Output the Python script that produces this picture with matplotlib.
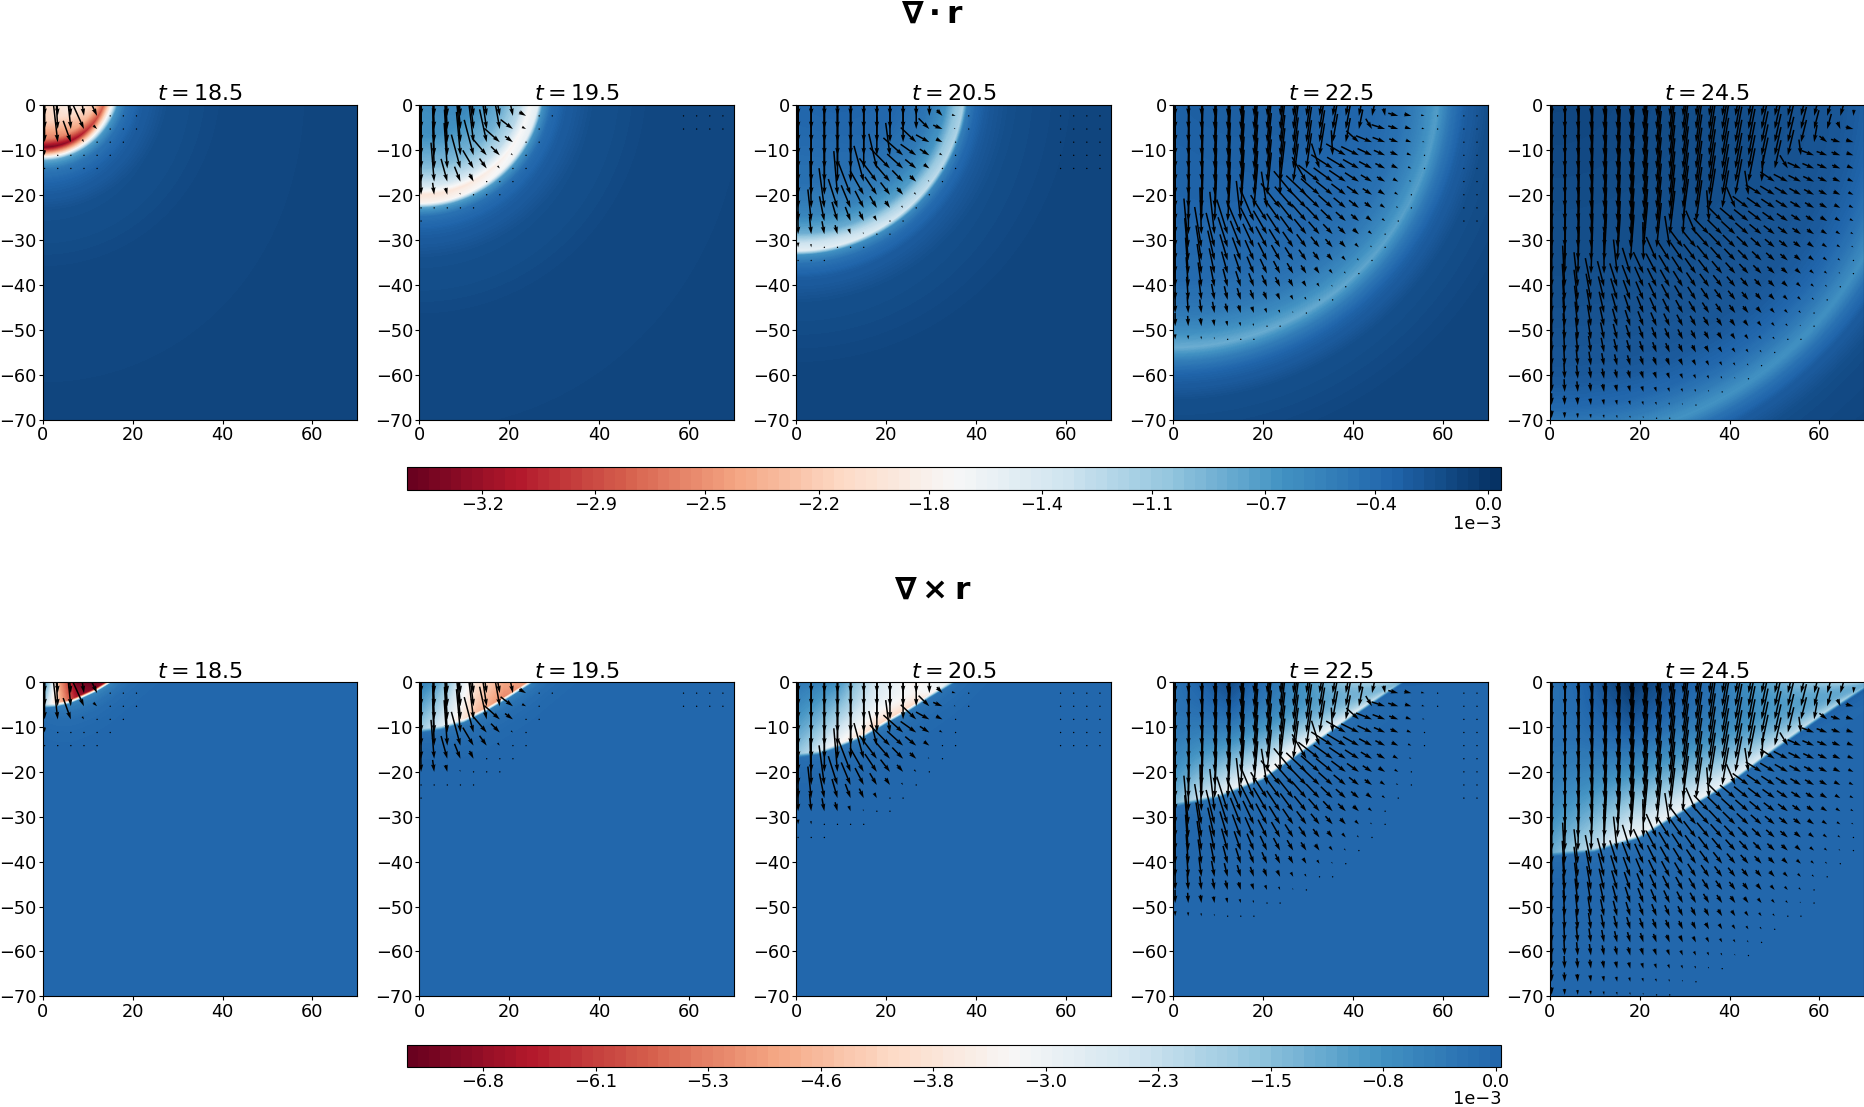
import numpy as np
import matplotlib
matplotlib.use('Agg')
import matplotlib.pyplot as plt
from matplotlib.cm import ScalarMappable
from matplotlib.colors import Normalize

# panel times
times = [18.5, 19.5, 20.5, 22.5, 24.5]

# radius of the divergence front, centred on (0, 5)
div_radius = [16.5, 27.0, 37.5, 59.0, 80.0]
radius_offsets = [-80, -30, -15, -8, -4, -2, 0, 1, 3, 6, 12, 25, 80]
# value behind/ahead of the front, in units of 1e-3
div_profiles = [
    [-1.9, -1.9, -1.95, -2.1, -2.6, -3.4, -1.9, -0.8, -0.45, -0.3, -0.18, -0.12, -0.1],
    [-0.55, -0.55, -0.65, -0.95, -1.4, -1.95, -1.75, -0.75, -0.4, -0.28, -0.18, -0.12, -0.1],
    [-0.32, -0.32, -0.4, -0.55, -0.85, -1.3, -1.55, -0.65, -0.4, -0.26, -0.16, -0.11, -0.1],
    [-0.25, -0.3, -0.35, -0.45, -0.6, -0.72, -0.85, -0.72, -0.5, -0.3, -0.16, -0.1, -0.1],
    [-0.1, -0.18, -0.22, -0.32, -0.47, -0.58, -0.68, -0.6, -0.42, -0.26, -0.14, -0.1, -0.09],
]
div_side_factor = [0.78, 0.85, 0.72, 0.85, 0.9]

# curl front: depth below the surface at given x, read per panel
curl_front_x = [
    [0, 3, 6, 9, 12, 15],
    [0, 5, 10, 15, 20, 25],
    [0, 5, 10, 15, 20, 25, 30, 35],
    [0, 10, 20, 30, 40, 51],
    [0, 10, 20, 30, 40, 50, 60, 72],
]
curl_front_depth = [
    [5.5, 5.2, 4.5, 3.2, 1.8, 0.0],
    [11.0, 10.2, 8.7, 6.2, 3.2, 0.0],
    [16.5, 15.8, 14.0, 12.0, 9.0, 6.2, 3.0, 0.0],
    [27.5, 25.5, 21.5, 14.5, 7.5, 0.0],
    [38.5, 37.5, 34.5, 28.5, 22.5, 15.0, 8.0, 0.0],
]
curl_q = [0, 0.1, 0.25, 0.5, 0.75, 1.0]
curl_at_front = [
    [-2.0, -3.2, -4.6, -6.5, -7.0, -6.5],
    [-1.8, -2.3, -3.1, -4.6, -5.3, -5.0],
    [-1.7, -2.3, -3.4, -4.4, -4.4, -3.2],
    [-1.4, -2.3, -3.1, -3.8, -3.2, -2.6],
    [-1.2, -2.0, -3.2, -3.2, -2.6, -2.3],
]
curl_at_surface = [
    [-0.5, -2.0, -5.0, -7.2, -7.3, -6.8],
    [-0.4, -0.7, -1.6, -3.8, -4.8, -5.0],
    [-0.3, -0.4, -0.7, -2.5, -3.4, -3.0],
    [-0.2, 0.0, 0.4, -0.5, -1.7, -2.5],
    [-0.2, 0.0, 0.7, -0.2, -1.5, -2.4],
]
curl_mid_factor = [1.0, 1.0, 0.8, 0.25, 0.15]
curl_under = [0.0, 0.0, 0.1, 0.35, 0.45]

# arrows
arrow_amp = [28, 24, 24, 17, 12]
arrow_margin = [4, 7, 8, 3, 1]
arrow_lean = [0.25, 0.25, 0.0, -0.25, -0.32]
arrow_mask_margin = [7, 4, 3, 1, 0]
arrow_min_y = [-15, -27, -36, -70, -70]
far_dots_x = [99, 58, 58, 62, 99]
far_dots_y = [0, -8, -16, -26, 0]

# colourbars
div_ticks = [-3.2, -2.84, -2.49, -2.13, -1.78, -1.42, -1.07, -0.71, -0.36, 0.0]
div_tick_labels = ['\u22123.2', '\u22122.9', '\u22122.5', '\u22122.2', '\u22121.8', '\u22121.4', '\u22121.1', '\u22120.7', '\u22120.4', '0.0']
curl_ticks = [-6.8, -6.04, -5.29, -4.53, -3.78, -3.02, -2.27, -1.51, -0.76, 0.0]
curl_tick_labels = ['\u22126.8', '\u22126.1', '\u22125.3', '\u22124.6', '\u22123.8', '\u22123.0', '\u22122.3', '\u22121.5', '\u22120.8', '0.0']
div_range = (-3.44, 0.04)
curl_range = (-7.31, 0.035)
curl_norm_top = 0.85

W, H = 1568.0, 931.0
panel_left = [36, 352.5, 669.5, 986.5, 1303]
panel_w = 264.5


def div_field(i, X, Y):
    r = np.hypot(X, Y - 5)
    val = np.interp(r - div_radius[i], radius_offsets, div_profiles[i])
    # front is stronger straight down than along the surface
    sin2 = ((5 - Y) / np.maximum(r, 1e-6)) ** 2
    k = div_side_factor[i] + (1 - div_side_factor[i]) * sin2
    return -0.1 + (val + 0.1) * k


def curl_field(i, X, Y):
    depth = np.interp(X, curl_front_x[i], curl_front_depth[i], right=0.0)
    xend = curl_front_x[i][-1]
    q = np.clip(X / xend, 0, 1)
    front = np.interp(q, curl_q, curl_at_front[i])
    surf = np.interp(q, curl_q, curl_at_surface[i])
    f = np.clip(-Y / np.maximum(depth, 1e-6), 0, 1)
    mid = 0.5 * (surf + front) * curl_mid_factor[i]
    a, b = (1 - f) ** 2, f ** 2.5
    inside = surf * a + front * b + mid * np.clip(1 - a - b, 0, 1)
    d = -Y - depth
    outside = front * 0.1 * np.exp(-np.maximum(d, 0) / 2.5) + curl_under[i] * q * np.exp(-np.maximum(d, 0) / 1.5)
    outside = outside * np.exp(-np.maximum(X - xend, 0) / 3.0)
    mix = np.clip((d + 0.4) / 0.9, 0, 1)
    mix = np.where(X > xend, 1.0, mix)
    return inside * (1 - mix) + outside * mix


def arrows(i):
    qx = 0.4 + 2.92 * np.arange(24)
    qy = -2.5 - 2.92 * np.arange(24)
    X, Y = np.meshgrid(qx, qy)
    dx, dy = X, Y - 5
    r = np.hypot(dx, dy)
    R = div_radius[i]
    P = arrow_amp[i] * np.clip((R - r) / R, 0, 1) * (1 + 1.2 * np.exp(-X / 6.0))
    # shear part lives above the curl front
    depth = np.interp(X, curl_front_x[i], curl_front_depth[i], right=-5.0)
    xend = curl_front_x[i][-1]
    q = np.clip(X / xend, 0, 1)
    g = np.clip((depth + arrow_margin[i] * (1 - q) + Y + 2) / 3.0, 0, 1)
    S = 10.5 * (1 - q ** 2.5)
    U = (1 - g) * P * dx / r + g * arrow_lean[i] * q * S
    V = (1 - g) * P * (dy / r - 0.1 * dx / r) + g * (-S)
    keep = (r < R + arrow_mask_margin[i]) | ((X > far_dots_x[i]) & (Y > far_dots_y[i]))
    keep = keep & (Y > arrow_min_y[i])
    return X[keep], Y[keep], U[keep], V[keep]


def draw_row(top, bottom, field, levels, norm):
    xx = np.linspace(0, 70, 351)
    yy = np.linspace(-70, 0, 351)
    X, Y = np.meshgrid(xx, yy)
    for i, t in enumerate(times):
        ax = fig.add_axes([panel_left[i] / W, 1 - bottom / H, panel_w / W, (bottom - top) / H])
        ax.contourf(X, Y, field(i, X, Y), levels=levels, cmap='RdBu', norm=norm, extend='both')
        x, y, u, v = arrows(i)
        ax.quiver(x, y, u, v, angles='xy', scale_units='xy', scale=1, pivot='tip',
                  width=0.0048, color='k', zorder=3)
        ax.set_xlim(0, 70)
        ax.set_ylim(-70, 0)
        ax.set_xticks([0, 20, 40, 60])
        ax.set_yticks(np.arange(-70, 1, 10))
        ax.tick_params(labelsize=12.8, length=3, pad=1.5)
        ax.set_title(f'$t = {t}$', fontsize=16, pad=3)


def draw_bar(top, bottom, vrange, norm, ticks, labels):
    cax = fig.add_axes([342 / W, 1 - bottom / H, 920 / W, (bottom - top) / H])
    bounds = np.linspace(vrange[0], vrange[1], 101)
    sm = ScalarMappable(norm=norm, cmap='RdBu')
    cb = fig.colorbar(sm, cax=cax, orientation='horizontal', boundaries=bounds, spacing='proportional')
    cb.set_ticks(ticks)
    cb.set_ticklabels(labels)
    cb.ax.tick_params(labelsize=12.8, length=3, pad=1.5)
    cb.ax.minorticks_off()
    cax.text(1.0, -1.5, '1e\u22123', transform=cax.transAxes, ha='right', va='center', fontsize=12.8)


fig = plt.figure(figsize=(18.65, 11.07), dpi=100)

div_norm = Normalize(*div_range)
curl_norm = Normalize(curl_range[0], curl_norm_top)
div_levels = np.linspace(div_range[0], div_range[1], 301)
curl_levels = np.linspace(curl_range[0], curl_norm_top, 331)

draw_row(88, 353, div_field, div_levels, div_norm)
draw_row(573.5, 838, curl_field, curl_levels, curl_norm)
draw_bar(393, 412, div_range, div_norm, div_ticks, div_tick_labels)
draw_bar(879, 897, curl_range, curl_norm, curl_ticks, curl_tick_labels)

fig.text(0.5, 1 - 12 / H, r'$\mathbf{\nabla \cdot r}$', ha='center', va='center', fontsize=22.5)
fig.text(0.5, 1 - 496 / H, r'$\mathbf{\nabla \times r}$', ha='center', va='center', fontsize=22.5)

fig.savefig('out.png', dpi=100)
